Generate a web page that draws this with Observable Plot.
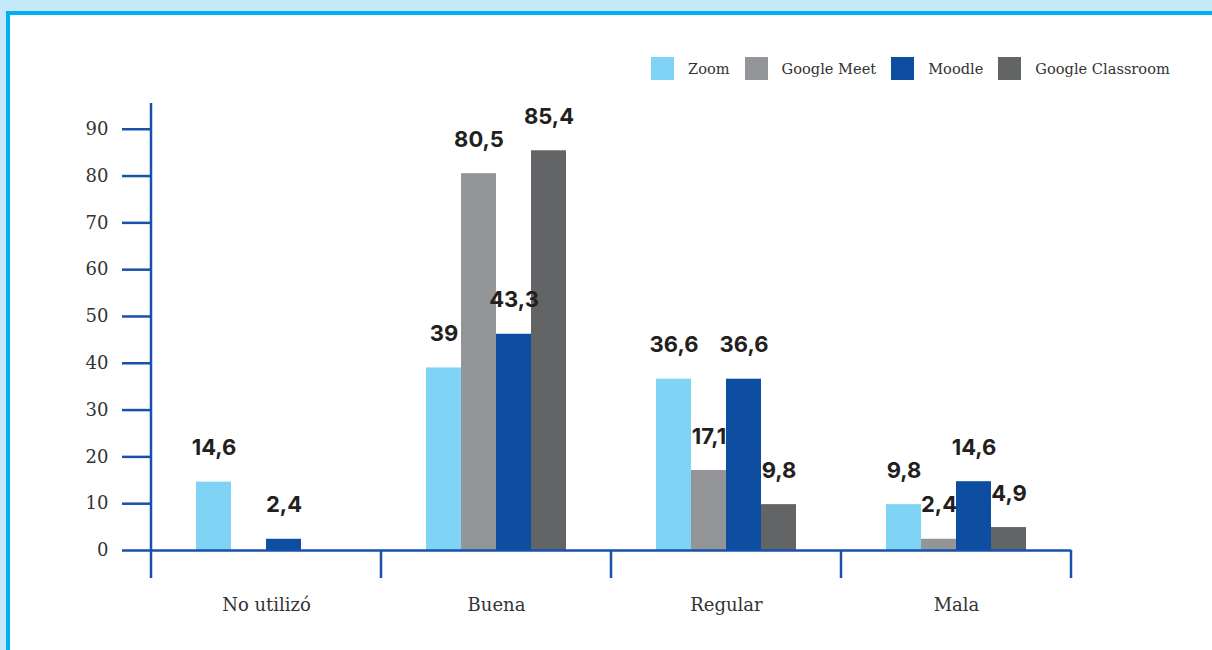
<!DOCTYPE html>
<html>
<head>
<meta charset="utf-8">
<script src="https://cdn.jsdelivr.net/npm/d3@7"></script>
<script src="https://cdn.jsdelivr.net/npm/@observablehq/plot@0.6"></script>
<style>
  body { margin:0; width:1212px; height:650px; overflow:hidden; position:relative; background:#c5e9f9; }
  #panel { position:absolute; left:6px; top:11px; width:1220px; height:660px; background:#fff;
           border-left:4px solid #00b0f0; border-top:4px solid #00b0f0; }
  #chart { position:absolute; left:0; top:0; }
  #legend { position:absolute; left:651px; top:57px; display:flex; align-items:center;
            font-family:"DejaVu Serif", serif; font-size:14.6px; color:#333; }
  #legend .sw { width:23px; height:23px; margin-right:14px; }
  #legend .item { display:flex; align-items:center; margin-right:15px; }
</style>
</head>
<body>
<div id="panel"></div>
<div id="chart"></div>
<div id="legend"></div>
<script>
const categories = ["No utilizó", "Buena", "Regular", "Mala"];
const series = ["Zoom", "Google Meet", "Moodle", "Google Classroom"];
const colors = ["#7fd3f5", "#939598", "#0d4ea1", "#636466"];

// bar heights (null = no bar)
const zoomValues      = [14.6, 39,   36.6, 9.8];
const meetValues      = [null, 80.5, 17.1, 2.4];
const moodleValues    = [2.4,  46.2, 36.6, 14.7];
const classroomValues = [null, 85.4, 9.8,  4.9];

// printed data labels
const zoomLabels      = ["14,6", "39",   "36,6", "9,8"];
const meetLabels      = [null,   "80,5", "17,1", "2,4"];
const moodleLabels    = ["2,4",  "43,3", "36,6", "14,6"];
const classroomLabels = [null,   "85,4", "9,8",  "4,9"];

const yTicks = [0, 10, 20, 30, 40, 50, 60, 70, 80, 90];

const valueSets = [zoomValues, meetValues, moodleValues, classroomValues];
const labelSets = [zoomLabels, meetLabels, moodleLabels, classroomLabels];

const rows = [];
series.forEach((s, si) => {
  categories.forEach((c, ci) => {
    const v = valueSets[si][ci];
    if (v != null) rows.push({category: c, series: s, value: v, label: labelSets[si][ci]});
  });
});

const axisBlue = "#1552a8";

const plot = Plot.plot({
  width: 1212,
  height: 650,
  marginLeft: 150,
  marginRight: 140,
  marginTop: 103,
  marginBottom: 100,
  style: {fontFamily: "DejaVu Serif", fontSize: "18px", background: "transparent", overflow: "visible"},
  fx: {domain: categories, padding: 0, label: null},
  x: {domain: series, paddingInner: 0, paddingOuter: 1.24, axis: null},
  y: {domain: [0, 95.5], label: null},
  color: {domain: series, range: colors},
  marks: [
    Plot.barY(rows, {fx: "category", x: "series", y: "value", fill: "series"}),
    Plot.ruleY([0], {stroke: axisBlue, strokeWidth: 2.5}),
    Plot.text(rows, {fx: "category", x: "series", y: "value", text: "label", dy: -34,
      fontFamily: "Inter", fontWeight: 700, fontSize: 22, fill: "#231f20"}),
    Plot.axisY({ticks: yTicks, tickSize: 29, tickPadding: 14, stroke: axisBlue, strokeWidth: 2.5,
      fill: "#333", fontSize: 18, fontFamily: "DejaVu Serif", label: null}),
    Plot.axisFx({anchor: "bottom", tickSize: 0, tickPadding: 48, fill: "#333", fontSize: 18,
      fontFamily: "DejaVu Serif", label: null})
  ]
});

document.getElementById("chart").appendChild(plot);

// axis line and group separators, positioned through the plot's own scales
const fx = plot.scale("fx");
const y = plot.scale("y");
const svg = d3.select(plot);
const y0 = y.apply(0);
const yTop = Math.min(...y.range);
const yBottom = y0 + 28;
const bounds = categories.map(c => fx.apply(c));
bounds.push(fx.apply(categories[categories.length - 1]) + fx.bandwidth);
const g = svg.append("g").attr("stroke", axisBlue).attr("stroke-width", 2.5);
bounds.forEach((bx, i) => {
  g.append("line").attr("x1", bx).attr("x2", bx)
    .attr("y1", i === 0 ? yTop : y0).attr("y2", yBottom);
});

// legend
const legend = d3.select("#legend");
series.forEach((s, i) => {
  const item = legend.append("div").attr("class", "item");
  item.append("div").attr("class", "sw").style("background", colors[i]);
  item.append("span").text(s);
});
</script>
</body>
</html>
